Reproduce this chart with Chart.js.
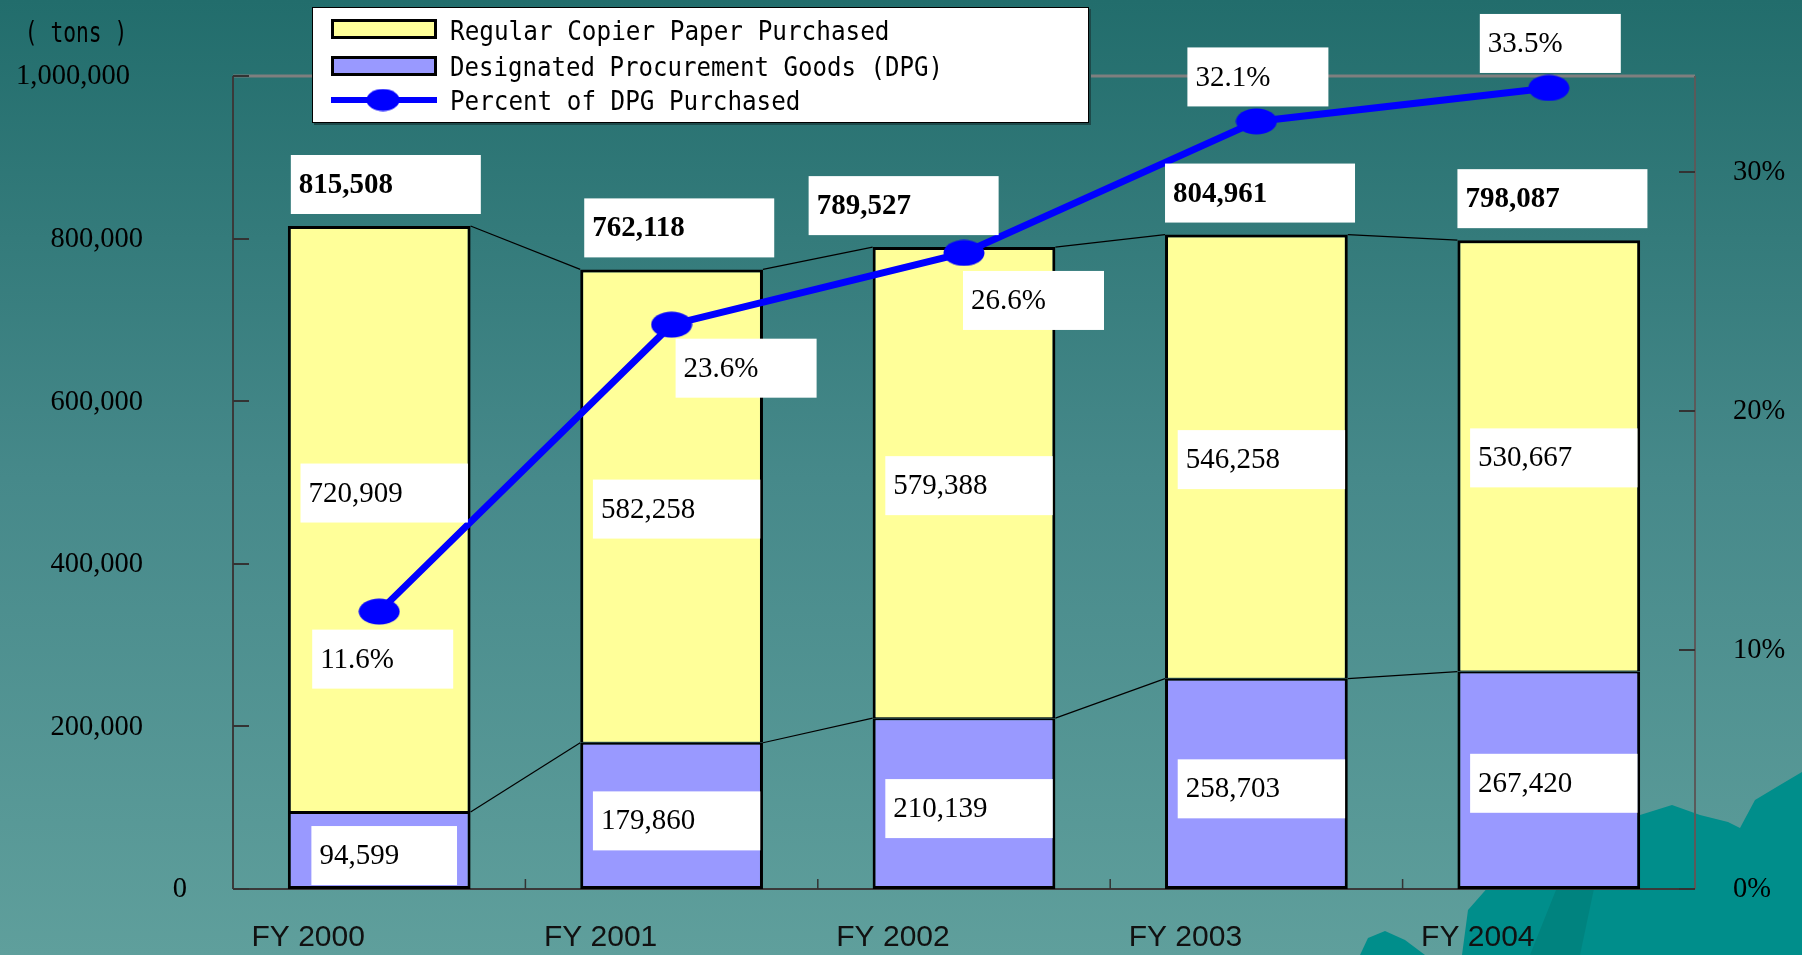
<!DOCTYPE html>
<html><head><meta charset="utf-8">
<script src="https://cdn.jsdelivr.net/npm/chart.js@4.4.0/dist/chart.umd.min.js"></script>
<style>html,body{margin:0;padding:0;background:#3d8280;overflow:hidden}#wrap{width:1802px;height:955px}</style>
</head><body><div id="wrap"><canvas id="c" width="1802" height="955"></canvas></div>
<script>
// ---- data ----
const categories = ['FY 2000', 'FY 2001', 'FY 2002', 'FY 2003', 'FY 2004'];
const regularPaper = [720909, 582258, 579388, 546258, 530667];
const dpgPurchased = [94599, 179860, 210139, 258703, 267420];
const totalPurchased = [815508, 762118, 789527, 804961, 798087];
const dpgPercent = [11.6, 23.6, 26.6, 32.1, 33.5];
const leftTicks = [0, 200000, 400000, 600000, 800000, 1000000];
const rightTicks = [0, 10, 20, 30];
const seriesNames = ['Regular Copier Paper Purchased', 'Designated Procurement Goods (DPG)', 'Percent of DPG Purchased'];
const unitLabel = '( tons )';

// ---- styling (positions of labels, not data) ----
const leftLabelRight = [187, 143, 143, 143, 143, 130];
const totalBoxShiftX = [3, 4, -64, 0, 0];
const regBoxShiftY = [-26, 3, 3, 3, 2];
const dpgBoxShiftY = [5, 5, 5, 5, 3];
const pctBoxDX = [-67, 4, -1, -69, -69];
const pctBoxDY = [18, 14, 18, -74, -74];
const SERIF = '"Liberation Serif", "Times New Roman", serif';
const MONO = '"DejaVu Sans Mono", monospace';

function ellipseImg(w, h, color) {
  const c = document.createElement('canvas'); c.width = w; c.height = h;
  const x = c.getContext('2d'); x.fillStyle = color;
  x.beginPath(); x.ellipse(w / 2, h / 2, w / 2 - 0.5, h / 2 - 0.5, 0, 0, Math.PI * 2); x.fill();
  return c;
}
const marker = ellipseImg(42, 27, '#0000ff');

function fmt(v) { return v.toLocaleString('en-US'); }

function monoText(ctx, str, x, y, pitch, size, align) {
  ctx.save();
  ctx.font = size + 'px ' + MONO;
  const w = ctx.measureText('M').width;
  const sx = pitch / w;
  ctx.translate(x, y);
  ctx.scale(sx, 1);
  ctx.textAlign = align || 'left';
  ctx.textBaseline = 'alphabetic';
  ctx.fillStyle = '#000';
  ctx.fillText(str, 0, 0);
  ctx.restore();
}

function box(ctx, x, y, w, h, text, bold) {
  ctx.fillStyle = '#ffffff';
  ctx.fillRect(x, y, w, h);
  ctx.fillStyle = '#000';
  ctx.font = (bold ? 'bold ' : '') + '29px ' + SERIF;
  ctx.textAlign = 'left';
  ctx.textBaseline = 'middle';
  ctx.fillText(text, x + 8, y + h / 2 + 1);
}

const bgPlugin = {
  id: 'bg',
  beforeDraw(chart) {
    const ctx = chart.ctx, W = chart.width, H = chart.height;
    ctx.save();
    const g = ctx.createLinearGradient(0, 0, 0, H);
    g.addColorStop(0, '#226d6c');
    g.addColorStop(0.5, '#46898a');
    g.addColorStop(1, '#5f9f9c');
    ctx.fillStyle = g;
    ctx.fillRect(0, 0, W, H);
    // decorative shapes bottom-right
    ctx.fillStyle = '#008e8b';
    ctx.beginPath();
    ctx.moveTo(1462, 955); ctx.lineTo(1468, 910); ctx.lineTo(1490, 885); ctx.lineTo(1540, 860);
    ctx.lineTo(1600, 835); ctx.lineTo(1640, 815); ctx.lineTo(1672, 805); ctx.lineTo(1700, 815);
    ctx.lineTo(1728, 822); ctx.lineTo(1740, 828); ctx.lineTo(1755, 800); ctx.lineTo(1780, 785);
    ctx.lineTo(1802, 772); ctx.lineTo(1802, 955); ctx.closePath(); ctx.fill();
    ctx.beginPath();
    ctx.moveTo(1360, 955); ctx.lineTo(1368, 938); ctx.lineTo(1385, 931); ctx.lineTo(1405, 940);
    ctx.lineTo(1425, 955); ctx.closePath(); ctx.fill();
    ctx.fillStyle = '#00837f';
    ctx.beginPath();
    ctx.moveTo(1530, 955); ctx.lineTo(1560, 880); ctx.lineTo(1600, 860); ctx.lineTo(1580, 955); ctx.closePath(); ctx.fill();
    ctx.restore();
  },
  beforeDatasetsDraw(chart) {
    const ctx = chart.ctx, a = chart.chartArea;
    const xs = chart.scales.x, ys = chart.scales.y, y1 = chart.scales.y1;
    ctx.save();
    ctx.strokeStyle = '#7f7f7f'; ctx.lineWidth = 3;
    ctx.beginPath(); ctx.moveTo(a.left, a.top); ctx.lineTo(a.right, a.top); ctx.stroke();
    ctx.strokeStyle = '#5a5a5a'; ctx.lineWidth = 2;
    ctx.beginPath(); ctx.moveTo(a.right, a.top); ctx.lineTo(a.right, a.bottom); ctx.stroke();
    ctx.strokeStyle = '#3a3a3a'; ctx.lineWidth = 2;
    ctx.beginPath(); ctx.moveTo(a.left, a.top); ctx.lineTo(a.left, a.bottom); ctx.stroke();
    ctx.beginPath(); ctx.moveTo(a.left, a.bottom); ctx.lineTo(a.right, a.bottom); ctx.stroke();
    ctx.lineWidth = 2; ctx.strokeStyle = '#333';
    leftTicks.forEach(v => { const p = Math.round(ys.getPixelForValue(v)); ctx.beginPath(); ctx.moveTo(a.left, p); ctx.lineTo(a.left + 16, p); ctx.stroke(); });
    rightTicks.forEach(v => { const p = Math.round(y1.getPixelForValue(v)); ctx.beginPath(); ctx.moveTo(a.right - 16, p); ctx.lineTo(a.right, p); ctx.stroke(); });
    ctx.lineWidth = 1.5;
    for (let i = 1; i < categories.length; i++) {
      const p = (xs.getPixelForValue(i - 1) + xs.getPixelForValue(i)) / 2;
      ctx.beginPath(); ctx.moveTo(p, a.bottom); ctx.lineTo(p, a.bottom - 10); ctx.stroke();
    }
    const md = chart.getDatasetMeta(1).data, mr = chart.getDatasetMeta(2).data;
    ctx.strokeStyle = '#000'; ctx.lineWidth = 1.2;
    [md, mr].forEach(arr => {
      for (let i = 0; i < arr.length - 1; i++) {
        const b0 = arr[i], b1 = arr[i + 1];
        ctx.beginPath();
        ctx.moveTo(b0.x + b0.width / 2, b0.y);
        ctx.lineTo(b1.x - b1.width / 2, b1.y);
        ctx.stroke();
      }
    });
    ctx.restore();
  },
  afterDatasetsDraw(chart) {
    const ctx = chart.ctx;
    const md = chart.getDatasetMeta(1).data, mr = chart.getDatasetMeta(2).data, ml = chart.getDatasetMeta(0).data;
    ctx.save();
    const segBox = (bar, text, dy) => {
      ctx.font = '29px ' + SERIF;
      const tw = ctx.measureText(text).width;
      const w = tw * 1.5 + 26, h = 59;
      const cx = bar.x + 5, cy = (bar.y + bar.base) / 2 + dy;
      box(ctx, cx - w / 2, cy - h / 2, w, h, text, false);
    };
    md.forEach((b, i) => segBox(b, fmt(dpgPurchased[i]), dpgBoxShiftY[i]));
    mr.forEach((b, i) => segBox(b, fmt(regularPaper[i]), regBoxShiftY[i]));
    mr.forEach((b, i) => {
      box(ctx, b.x - b.width / 2 + totalBoxShiftX[i], b.y - 71, 190, 59, fmt(totalPurchased[i]), true);
    });
    ml.forEach((p, i) => {
      box(ctx, p.x + pctBoxDX[i], p.y + pctBoxDY[i], 141, 59, dpgPercent[i].toFixed(1) + '%', false);
    });
    ctx.restore();
  },
  afterDraw(chart) {
    const ctx = chart.ctx, a = chart.chartArea;
    const xs = chart.scales.x, ys = chart.scales.y, y1 = chart.scales.y1;
    ctx.save();
    ctx.fillStyle = '#000';
    ctx.font = '28.5px ' + SERIF;
    ctx.textBaseline = 'middle';
    ctx.textAlign = 'right';
    leftTicks.forEach((v, i) => ctx.fillText(fmt(v), leftLabelRight[i], ys.getPixelForValue(v) + 1));
    ctx.textAlign = 'left';
    rightTicks.forEach(v => ctx.fillText(v + '%', a.right + 38, y1.getPixelForValue(v) + 1));
    ctx.font = '30px "Liberation Sans", Arial, sans-serif';
    ctx.textAlign = 'center';
    ctx.fillStyle = '#111';
    categories.forEach((c, i) => ctx.fillText(c, xs.getPixelForValue(i) - 71, 938));
    monoText(ctx, unitLabel, 76, 42, 12.8, 28, 'center');
    const L = 312, T = 7, R = 1089, B = 123;
    ctx.fillStyle = '#1d4a4a'; ctx.fillRect(L + 2, T + 2, R - L, B - T);
    ctx.fillStyle = '#fff'; ctx.fillRect(L, T, R - L, B - T);
    ctx.strokeStyle = '#000'; ctx.lineWidth = 1; ctx.strokeRect(L + 0.5, T + 0.5, R - L - 1, B - T - 1);
    const sw = [['#ffff99', 19], ['#9999ff', 56]];
    sw.forEach(([col, y]) => {
      ctx.fillStyle = '#000'; ctx.fillRect(331, y, 106, 20);
      ctx.fillStyle = col; ctx.fillRect(334, y + 3, 100, 14);
    });
    ctx.fillStyle = '#0000ff'; ctx.fillRect(331, 97, 106, 6);
    ctx.drawImage(ellipseImg(34, 23, '#0000ff'), 383 - 17, 100 - 11.5);
    monoText(ctx, seriesNames[0], 450, 40, 14.65, 27);
    monoText(ctx, seriesNames[1], 450, 76, 14.5, 27);
    monoText(ctx, seriesNames[2], 450, 110, 14.6, 27);
    ctx.restore();
  }
};

const ctx = document.getElementById('c').getContext('2d');
new Chart(ctx, {
  type: 'bar',
  data: {
    labels: categories,
    datasets: [
      { type: 'line', label: seriesNames[2], data: dpgPercent, yAxisID: 'y1', borderColor: '#0000ff', backgroundColor: '#0000ff',
        borderWidth: 7, pointStyle: marker, pointRadius: 14, pointHoverRadius: 14, tension: 0, fill: false, order: 0, clip: false },
      { label: seriesNames[1], data: dpgPurchased, yAxisID: 'y', backgroundColor: '#9999ff', borderColor: '#000',
        borderWidth: { left: 3, right: 3, top: 2, bottom: 3 }, borderSkipped: false, order: 1,
        barPercentage: 0.625, categoryPercentage: 1.0 },
      { label: seriesNames[0], data: regularPaper, yAxisID: 'y', backgroundColor: '#ffff99', borderColor: '#000',
        borderWidth: { left: 3, right: 3, top: 3, bottom: 1 }, borderSkipped: false, order: 1,
        barPercentage: 0.625, categoryPercentage: 1.0 }
    ]
  },
  options: {
    responsive: false, animation: false, events: [],
    layout: { padding: { top: 76, left: 0, right: 0, bottom: 0 } },
    plugins: { legend: { display: false }, tooltip: { enabled: false }, title: { display: false } },
    scales: {
      x: { stacked: true, offset: true, grid: { display: false }, border: { display: false }, ticks: { display: false },
           afterFit(s) { s.height = 66; } },
      y: { stacked: true, min: 0, max: 1000000, position: 'left', grid: { display: false }, border: { display: false },
           ticks: { display: false, stepSize: 200000 }, afterFit(s) { s.width = 233; } },
      y1: { min: 0, max: 34, position: 'right', grid: { display: false }, border: { display: false },
            ticks: { display: false, stepSize: 10 }, afterFit(s) { s.width = 107; } }
    }
  },
  plugins: [bgPlugin]
});
</script>
</body></html>
